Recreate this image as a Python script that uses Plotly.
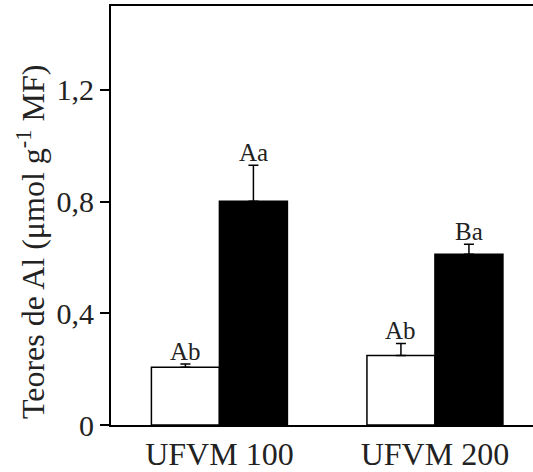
import plotly.graph_objects as go

categories = ["UFVM 100", "UFVM 200"]
white_vals = [0.207, 0.249]
white_err = [0.011, 0.043]
black_vals = [0.801, 0.611]
black_err = [0.129, 0.036]
white_labels = ["Ab", "Ab"]
black_labels = ["Aa", "Ba"]
ytick_vals = [0, 0.4, 0.8, 1.2]
ytick_text = ["0", "0,4", "0,8", "1,2"]

FONT = "Liberation Serif"

fig = go.Figure()
fig.add_trace(go.Bar(
    x=categories, y=white_vals, name="white",
    marker=dict(color="white", line=dict(color="black", width=1.5)),
    error_y=dict(type="data", array=white_err, arrayminus=[0, 0], symmetric=False,
                 color="black", thickness=1.5, width=5),
    offsetgroup="w",
))
fig.add_trace(go.Bar(
    x=categories, y=black_vals, name="black",
    marker=dict(color="black", line=dict(color="black", width=1.5)),
    error_y=dict(type="data", array=black_err, arrayminus=[0, 0], symmetric=False,
                 color="black", thickness=1.5, width=5),
    offsetgroup="b",
))

# letter labels above error bars
for i, cat in enumerate(categories):
    for vals, errs, labs, shift in ((white_vals, white_err, white_labels, -0.158),
                                    (black_vals, black_err, black_labels, 0.158)):
        fig.add_annotation(
            x=i + shift, y=vals[i] + errs[i], xref="x", yref="y",
            text=labs[i], showarrow=False, yanchor="bottom", xanchor="center",
            font=dict(family=FONT, size=25, color="#222"), yshift=-3,
        )

fig.add_annotation(
    xref="paper", yref="paper", x=(31 - 111) / 422, y=(432 - 246) / 426,
    text="Teores de Al (μmol g<sup>-1</sup> MF)", textangle=-90, showarrow=False,
    xanchor="center", yanchor="middle",
    font=dict(family=FONT, size=32, color="#222"),
)

fig.update_layout(
    width=533, height=472,
    margin=dict(l=111, r=0, t=6, b=40),
    paper_bgcolor="white", plot_bgcolor="white",
    showlegend=False,
    barmode="group", bargap=0.369, bargroupgap=0,
    font=dict(family=FONT, color="#222"),
)
fig.update_xaxes(
    type="category", range=[-0.503, 1.455],
    showline=True, linecolor="black", linewidth=2, mirror=True,
    ticks="", showgrid=False, zeroline=False,
    tickfont=dict(family=FONT, size=32, color="#222"),
)
fig.update_yaxes(
    range=[0, 1.5], tickvals=ytick_vals, ticktext=ytick_text,
    showline=True, linecolor="black", linewidth=2, mirror=False,
    ticks="outside", ticklen=9, tickwidth=1.5, tickcolor="black",
    showgrid=False, zeroline=False,
    tickfont=dict(family=FONT, size=30, color="#222"),
)

fig.write_html("out.html")
